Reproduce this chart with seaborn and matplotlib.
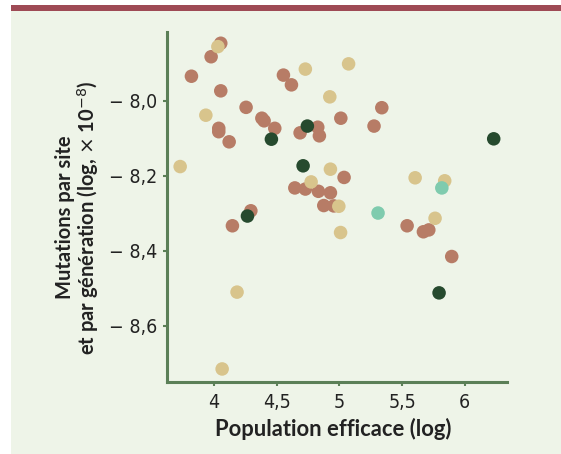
import numpy as np
import pandas as pd
import matplotlib
matplotlib.use("Agg")
import matplotlib.pyplot as plt
from matplotlib.patches import Rectangle
from matplotlib import font_manager
import seaborn as sns

# values (log Ne, log mutation rate)
brown_x = [4.053, 3.976, 3.819, 4.053, 4.553, 4.617, 4.255, 4.037, 4.037, 4.120,
           4.381, 4.399, 4.484, 4.827, 4.840, 4.686, 5.011, 5.338, 5.276, 5.037,
           4.644, 4.728, 4.832, 4.928, 4.875, 4.955, 4.293, 4.146, 5.540, 5.670,
           5.713, 5.896]
brown_y = [-7.846, -7.882, -7.934, -7.973, -7.931, -7.957, -8.017, -8.073, -8.082, -8.109,
           -8.046, -8.053, -8.073, -8.070, -8.093, -8.085, -8.046, -8.018, -8.067, -8.204,
           -8.232, -8.235, -8.241, -8.245, -8.279, -8.280, -8.293, -8.333, -8.333, -8.349,
           -8.344, -8.415]
tan_x = [4.030, 4.728, 4.923, 5.073, 3.934, 3.729, 4.928, 4.774, 4.995, 5.009,
         5.604, 5.840, 5.763, 4.183, 4.064]
tan_y = [-7.855, -7.915, -7.989, -7.901, -8.038, -8.175, -8.182, -8.216, -8.281, -8.351,
         -8.205, -8.213, -8.313, -8.510, -8.715]
dark_x = [4.457, 4.744, 4.710, 4.266, 6.231, 5.795]
dark_y = [-8.102, -8.067, -8.173, -8.307, -8.101, -8.512]
teal_x = [5.817, 5.308]
teal_y = [-8.232, -8.299]

xticks = [4, 4.5, 5, 5.5, 6]
xtick_labels = ["4", "4,5", "5", "5,5", "6"]
yticks = [-8.0, -8.2, -8.4, -8.6]
ytick_labels = ["\u2212 8,0", "\u2212 8,2", "\u2212 8,4", "\u2212 8,6"]

groups = ["brun", "beige", "vert", "turquoise"]
colors = {"brun": "#b77c66", "beige": "#d8c48c", "vert": "#264a2e", "turquoise": "#7fcbae"}

df = pd.concat([
    pd.DataFrame({"x": brown_x, "y": brown_y, "g": "brun"}),
    pd.DataFrame({"x": tan_x, "y": tan_y, "g": "beige"}),
    pd.DataFrame({"x": dark_x, "y": dark_y, "g": "vert"}),
    pd.DataFrame({"x": teal_x, "y": teal_y, "g": "turquoise"}),
])

bg = "#eef4e8"
green = "#5b7f57"

# narrow font for the tick labels if there is one
names = {f.name for f in font_manager.fontManager.ttflist}
if "Liberation Sans Narrow" in names:
    tick_font = dict(family="Liberation Sans Narrow", size=15)
else:
    tick_font = dict(family="DejaVu Sans", stretch="condensed", size=14)

fig = plt.figure(figsize=(5.61, 4.54), dpi=100)
fig.patch.set_facecolor("white")
# panel + red band
fig.add_artist(Rectangle((11/561, 0), 1, 1 - 11/454, transform=fig.transFigure,
                         facecolor=bg, edgecolor="none", zorder=-2))
fig.add_artist(Rectangle((11/561, 1 - 11/454), 1, 6/454, transform=fig.transFigure,
                         facecolor="#9e4a55", edgecolor="none", zorder=-2))

ax = fig.add_axes([167/561, 1 - 381.7/454, 340/561, 349.7/454])
ax.set_facecolor("none")

sns.scatterplot(data=df, x="x", y="y", hue="g", palette=colors, hue_order=groups,
                s=95, linewidth=0, alpha=1, legend=False, ax=ax)

ax.set_xlim(3.624, 6.337)
ax.set_ylim(-8.749, -7.816)

for s in ["top", "right"]:
    ax.spines[s].set_visible(False)
for s in ["left", "bottom"]:
    ax.spines[s].set_color(green)
    ax.spines[s].set_linewidth(2.2)

ax.set_xticks(xticks)
ax.set_xticklabels(xtick_labels, color="#222222", **tick_font)
ax.set_yticks(yticks)
ax.set_yticklabels(ytick_labels, color="#222222", **tick_font)
ax.tick_params(axis="both", colors=green, length=3, width=1.5, labelcolor="#222222")
ax.tick_params(axis="x", pad=5)
ax.tick_params(axis="y", pad=4)

label_font = dict(family=["Lato", "DejaVu Sans"], weight="bold", color="#222222")
ax.set_xlabel("Population efficace (log)", size=15.8, **label_font)
ax.xaxis.set_label_coords(0.49, -0.105)
ax.set_ylabel("Mutations par site\net par génération (log, $\\times$ 10$^{-8}$)",
              size=14.5, linespacing=1.0, **label_font)
ax.yaxis.set_label_coords(-0.194, 0.47)

fig.savefig("out.png", dpi=100, facecolor="white")
